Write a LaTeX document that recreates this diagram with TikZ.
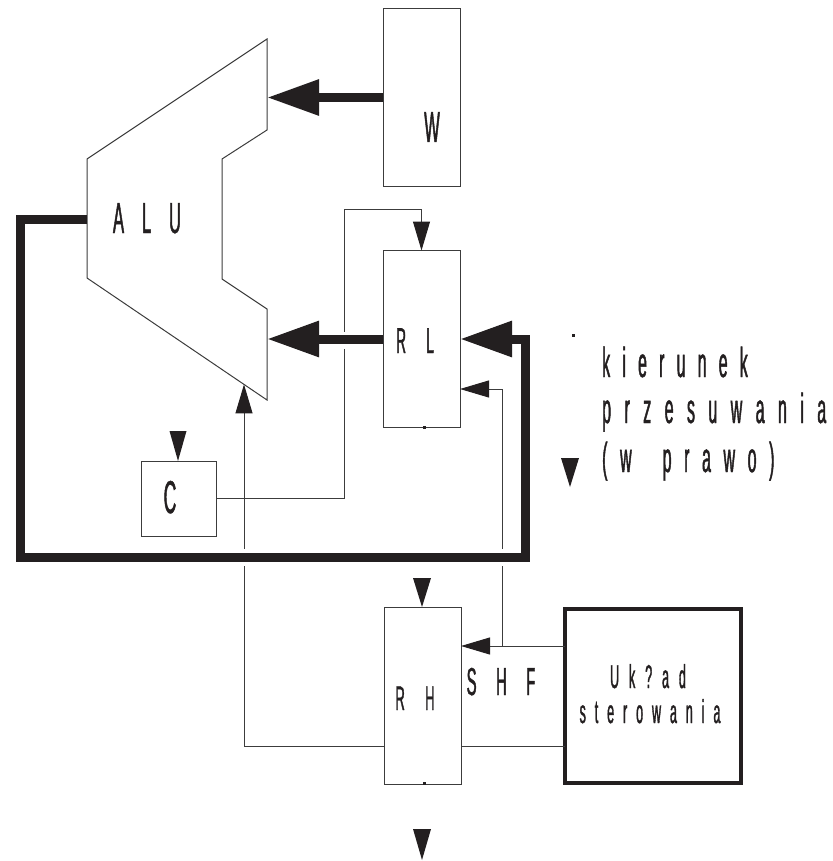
\documentclass[tikz,border=0pt]{standalone}
\usepackage{fontspec}
\newfontfamily\nf[FakeStretch=0.38,FakeBold=1]{Liberation Sans}
\usetikzlibrary{arrows.meta}
\definecolor{ink}{HTML}{231F20}
\definecolor{thin}{HTML}{3C3C3C}
\newcommand{\lf}[2]{\nf\fontsize{#1pt}{#1pt}\selectfont\addfontfeature{LetterSpace=#2}}
\begin{document}
\begin{tikzpicture}[x=1pt,y=-1pt,
  box/.style={draw=thin, line width=1pt, minimum width=77pt, minimum height=177pt, inner sep=0pt, outer sep=0pt},
  thinline/.style={draw=thin, line width=1pt},
  bus/.style={draw=ink, line width=9pt},
  gap/.style={draw=white, line width=17pt},
  bigtip/.tip={Triangle[length=52pt,width=34pt,color=ink]},
  smalltip/.tip={Triangle[length=29pt,width=17pt,color=ink]},
  lbl/.style={inner sep=0pt, anchor=base, text=ink},
  lblw/.style={inner sep=0pt, anchor=base west, text=ink},
  headtri/.style={fill=ink}
]
\useasboundingbox (0,0) rectangle (832,861);

% ALU
\draw[thinline] (267,39) -- (267,130) -- (222,159) -- (222,279) -- (267,309) -- (267,400) -- (87,278) -- (87,159) -- cycle;
\coordinate (aluW) at (267,97.5);
\coordinate (aluR) at (267,339);
\coordinate (aluB) at (244,384.4);
\coordinate (aluL) at (87,219);
\node[lbl, font=\lf{43.6}{41}] (ALUt) at (147,233) {ALU};

% boxes
\node[box] (W) at (421.5,97.5) {};
\node[lbl, font=\lf{43.6}{40}] (Wt) at (432,142) {W};
\node[box] (RL) at (421.5,339) {};
\node[lbl, font=\lf{36}{56}] (RLt) at (415,353) {RL};
\node[box] (RH) at (422.5,695.5) {};
\node[lbl, font=\lf{34}{60}] (RHt) at (415,710) {RH};
\node[box, minimum width=75pt, minimum height=75pt] (C) at (178.5,498.5) {};
\node[lbl, font=\lf{46}{40}] (Ct) at (170,513) {C};
\node[draw=ink, line width=4pt, minimum width=176pt, minimum height=174pt, inner sep=0pt, outer sep=0pt] (U) at (653,696) {};
\node[lbl, font=\lf{33}{30}] (U1) at (648,688) {Uk?ad};
\node[lbl, font=\lf{33}{27}] (U2) at (650,723) {sterowania};
\node[lbl, font=\lf{39}{50}] (SHF) at (501,695) {SHF};

\node[lblw, font=\lf{42}{29}] (k1) at (602,377) {kierunek};
\node[lblw, font=\lf{42}{32}] (k2) at (602,423) {przesuwania};
\node[lblw, font=\lf{42}{30}] (k3) at (602,472) {(w\hspace{14pt} prawo)};

% thin connectors
\draw[thinline, -{smalltip}] (C.east) -| (344,209) -| (RL.north);
\draw[thinline, -{smalltip}] ([yshift=-50.5pt]RH.west) -| (aluB);
\draw[thinline] ([yshift=-50.5pt]RH.east) -- ([yshift=-50.5pt]RH.east -| U.west);
\draw[thinline, -{smalltip}] ([yshift=50pt]U.west) -- ([yshift=50pt]U.west -| RH.east);
\coordinate (br) at (502,646);
\draw[thinline, -{smalltip}] (br) |- ([yshift=-50pt]RL.east);

% crossing gaps
\draw[gap] (241,557) -- (247,557);
\draw[gap] (499,557) -- (505,557);
\draw[gap] (341,340) -- (347,340);

% thick connectors
\draw[bus, -{bigtip}] (aluL) -- (20,219) -- (20,557) -- (525,557) -- (525,339) -- (RL.east);
\draw[bus, -{bigtip}] (RL.west) -- (aluR);
\draw[bus, -{bigtip}] (W.west) -- (aluW);

% free arrowheads
\fill[headtri] (169.5,431) -- (186.5,431) -- (178,461) -- cycle;
\fill[headtri] (413,578) -- (431,578) -- (422,607) -- cycle;
\fill[headtri] (413,829) -- (431,829) -- (422,860) -- cycle;
\fill[headtri] (561,458) -- (579,458) -- (570,487) -- cycle;

% small marks
\fill[ink] (422.5,425.5) rectangle (425.5,428.5);
\fill[ink] (422.5,781.5) rectangle (425.5,784.5);
\fill[ink] (571.5,333.5) rectangle (574.5,336.5);
\end{tikzpicture}
\end{document}
